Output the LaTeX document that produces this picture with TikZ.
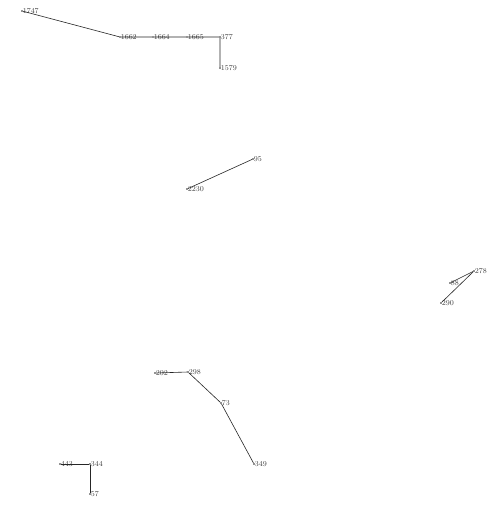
\documentclass[tikz,border=0pt]{standalone}
\begin{document}
\begin{tikzpicture}[x=1pt,y=-1pt,
  vtx/.style={circle,fill=black!85,inner sep=0pt,minimum size=1.8pt,
    label={[font=\fontsize{7.5}{7.5}\selectfont,text=black!75,inner sep=0.5pt,anchor=west,xshift=-1pt,yshift=0.4pt]right:#1}},
  edge/.style={draw=black!85,line width=0.6pt}]
\useasboundingbox (0,0) rectangle (501,516);
\fill[white] (0,0) rectangle (501,516);
% group 1
\node[vtx=1747] (n1747) at (22,11) {};
\node[vtx=1662] (n1662) at (120,37) {};
\node[vtx=1664] (n1664) at (153,37) {};
\node[vtx=1665] (n1665) at (187,37) {};
\node[vtx=377] (n377) at (220,37) {};
\node[vtx=1579] (n1579) at (220,68) {};
\draw[edge] (n1747) -- (n1662) -- (n1664) -- (n1665) -- (n377) -- (n1579);
% group 2
\node[vtx=95] (n95) at (253,159) {};
\node[vtx=2230] (n2230) at (187,189) {};
\draw[edge] (n2230) -- (n95);
% group 3
\node[vtx=278] (n278) at (474,271) {};
\node[vtx=88] (n88) at (450,283) {};
\node[vtx=290] (n290) at (441,303) {};
\draw[edge] (n88) -- (n278);
\draw[edge] (n290) -- (n278);
% group 4
\node[vtx=202] (n202) at (155,373) {};
\node[vtx=298] (n298) at (188,372) {};
\node[vtx=73] (n73) at (221,403) {};
\node[vtx=349] (n349) at (254,464) {};
\draw[edge] (n202) -- (n298) -- (n73) -- (n349);
% group 5
\node[vtx=443] (n443) at (60,464) {};
\node[vtx=344] (n344) at (90,464) {};
\node[vtx=57] (n57) at (90,494) {};
\draw[edge] (n443) -- (n344) -- (n57);
\end{tikzpicture}
\end{document}
